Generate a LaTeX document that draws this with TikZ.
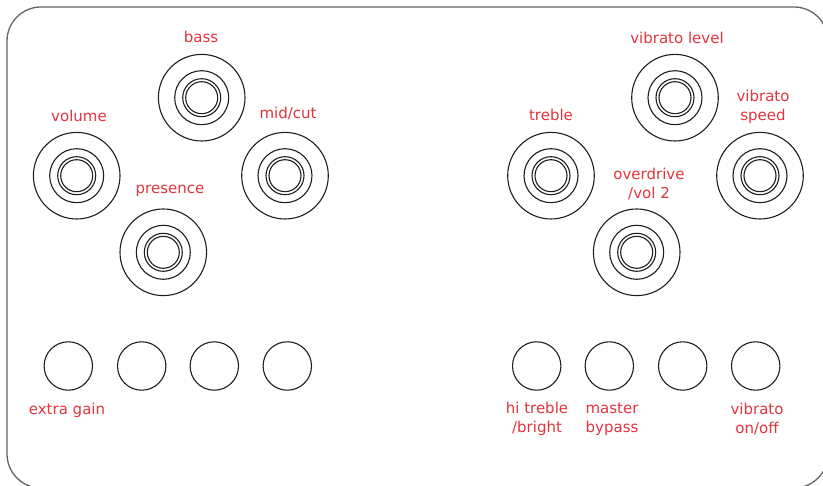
\documentclass[tikz,border=0pt]{standalone}
\usepackage{fontspec}
\setmainfont{DejaVu Sans}
\usepackage{xcolor}
\definecolor{panelred}{RGB}{226,52,62}
\definecolor{knobline}{RGB}{30,30,30}
\definecolor{panelgrey}{RGB}{100,100,100}

\tikzset{
  lbl/.style={text=panelred, font=\fontsize{15}{19}\selectfont, align=center, inner sep=0pt},
  ring/.style={circle, draw=knobline, line width=1.1pt, inner sep=0pt},
  switchring/.style={circle, draw=knobline, line width=1.1pt, inner sep=0pt, minimum size=48.4pt}
}

\begin{document}
\begin{tikzpicture}[x=1pt,y=-1pt]

\useasboundingbox (0,0) rectangle (823,486);
\clip (0,0) rectangle (823,486);

% panel outline
\draw[panelgrey, line width=1.3pt, rounded corners=34pt] (7,7) rectangle (828,488);

% knobs
\foreach \n/\x/\y in {volume/76.7/175.7, bass/201.7/97.7, midcut/285/175.7, presence/163.3/252.3,
                      treble/551/175.7, viblevel/675/97.7, vibspeed/760/175.7, overdrive/636.7/252.3} {
\node[ring, minimum size=86.6pt] (\n) at (\x,\y) {};
\foreach \r in {27,19,16} \draw[knobline, line width=1.1pt] (\n.center) circle (\r pt);
}

% switches
\foreach \n/\x in {swa/68.3, swb/141.7, swc/214.3, swd/287.3,
                   swe/536.7, swf/609.3, swg/682.7, swh/755.7} {
\node[switchring] (\n) at (\x,366) {};
}

% labels
\node[lbl] (lbass) at (201,37) {bass};
\node[lbl] (lvolume) at (79,116) {volume};
\node[lbl] (lmidcut) at (288,114) {mid/cut};
\node[lbl] (lpresence) at (170,191) {presence};
\node[lbl] (ltreble) at (551,115) {treble};
\node[lbl] (lviblevel) at (677,38) {vibrato level};
\node[lbl] (lvibspeed) at (763,107) {vibrato\\speed};
\node[lbl] (loverdrive) at (649,184) {overdrive\\/vol 2};

\node[lbl] (lextra) at (67,410) {extra gain};
\node[lbl] (lbright) at (537,419) {hi treble\\/bright};
\node[lbl] (lbypass) at (612,419) {master\\bypass};
\node[lbl] (lvibonoff) at (757,419) {vibrato\\on/off};

\end{tikzpicture}
\end{document}
